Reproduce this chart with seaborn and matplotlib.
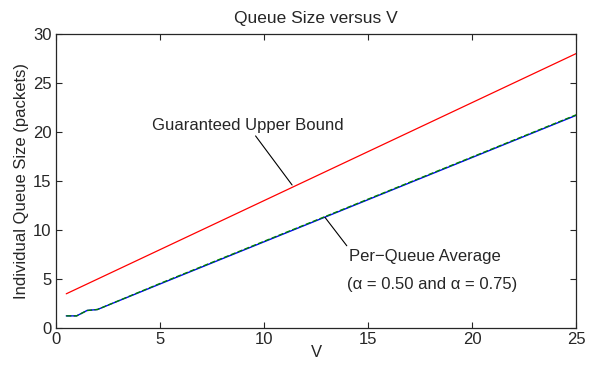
import numpy as np
import pandas as pd
import matplotlib
matplotlib.use('Agg')
import matplotlib.pyplot as plt
import seaborn as sns

# values
v_bound = [0.5, 25]
upper_bound = [3.5, 28.0]

v_avg = [0.5, 1.0, 1.5, 2.0, 5, 10, 15, 20, 25]
avg_a050 = [1.25, 1.25, 1.8, 1.9, 4.5, 8.8, 13.1, 17.4, 21.7]
avg_a075 = [1.25, 1.25, 1.8, 1.9, 4.55, 8.85, 13.15, 17.45, 21.75]

sns.set_style('ticks')
plt.rcParams['font.family'] = ['Liberation Sans', 'DejaVu Sans']

fig = plt.figure(figsize=(5.94, 3.65), dpi=100)
ax = fig.add_axes([0.094, 0.101, 0.876, 0.806])

sns.lineplot(x=v_bound, y=upper_bound, ax=ax, color='red', linewidth=0.9)
sns.lineplot(x=v_avg, y=avg_a050, ax=ax, color='blue', linewidth=1.0)
sns.lineplot(x=v_avg, y=avg_a075, ax=ax, color='green', linewidth=1.0,
             linestyle='--', dashes=(3, 3))

ax.set_xlim(0, 25)
ax.set_ylim(0, 30)
ax.set_xticks(range(0, 26, 5))
ax.set_yticks(range(0, 31, 5))
ax.tick_params(direction='in', top=True, right=True, length=4, width=0.8,
               labelsize=12, pad=3)
for s in ax.spines.values():
    s.set_linewidth(0.9)
    s.set_visible(True)

ax.set_title('Queue Size versus V', fontsize=12.5, pad=8)
ax.set_xlabel('V', fontsize=12, labelpad=-2)
ax.set_ylabel('Individual Queue Size (packets)', fontsize=12, labelpad=3)

ax.annotate('Guaranteed Upper Bound', xy=(11.35, 14.6), xytext=(4.6, 20.7),
            fontsize=12, va='center', ha='left',
            arrowprops=dict(arrowstyle='-', color='black', lw=0.8,
                            shrinkA=0, shrinkB=0, relpos=(0.53, 0.0)))
ax.annotate('Per\u2212Queue Average', xy=(12.93, 11.3), xytext=(14.1, 7.3),
            fontsize=12, va='center', ha='left',
            arrowprops=dict(arrowstyle='-', color='black', lw=0.8,
                            shrinkA=0, shrinkB=0, relpos=(0.0, 1.0)))
ax.text(14.0, 4.5, '(\u03b1 = 0.50 and \u03b1 = 0.75)', fontsize=12,
        va='center', ha='left')

fig.savefig('out.png', dpi=100)
